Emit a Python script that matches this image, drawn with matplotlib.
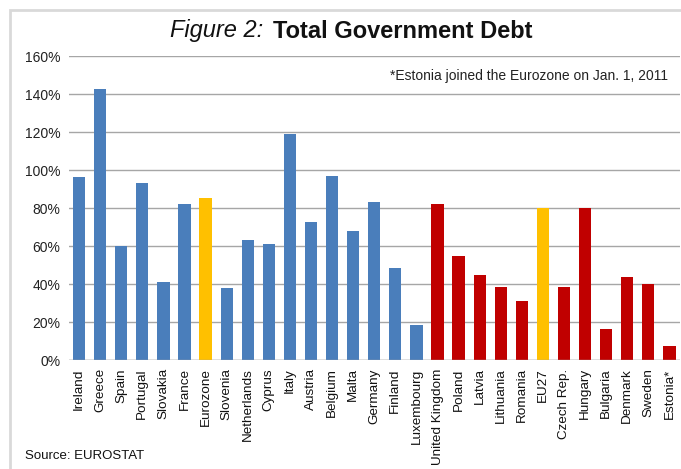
import matplotlib
matplotlib.use("Agg")
import matplotlib.pyplot as plt
from matplotlib.patches import Rectangle

plt.rcParams['font.family'] = ['Liberation Sans', 'DejaVu Sans']

countries = ["Ireland", "Greece", "Spain", "Portugal", "Slovakia", "France", "Eurozone",
             "Slovenia", "Netherlands", "Cyprus", "Italy", "Austria", "Belgium", "Malta",
             "Germany", "Finland", "Luxembourg", "United Kingdom", "Poland", "Latvia",
             "Lithuania", "Romania", "EU27", "Czech Rep.", "Hungary", "Bulgaria",
             "Denmark", "Sweden", "Estonia*"]
debt = [96.3, 142.6, 60.0, 93.2, 41.0, 82.0, 85.3,
        37.9, 63.2, 61.0, 119.0, 72.6, 96.8, 67.9,
        83.2, 48.4, 18.4, 82.0, 54.7, 44.7,
        38.4, 31.0, 80.0, 38.4, 80.0, 16.3,
        43.7, 40.0, 7.4]
groups = ["euro"] * 6 + ["agg"] + ["euro"] * 10 + ["non"] * 5 + ["agg"] + ["non"] * 6
yticks = [0, 20, 40, 60, 80, 100, 120, 140, 160]

color_map = {"euro": "#4A7EBB", "agg": "#FFC000", "non": "#C00000"}
colors = [color_map[g] for g in groups]

W, H = 681, 469
fig = plt.figure(figsize=(W / 100, H / 100), dpi=100)
fig.patch.set_facecolor("white")

# light frame around the chart
fig.patches.append(Rectangle((10 / W, -0.1), 1.2, 1 - 10 / H + 0.1, transform=fig.transFigure,
                             fill=False, edgecolor="#d9d9d9", linewidth=2))

ax = fig.add_axes([68.5 / W, 1 - 360 / H, (680 - 68.5) / W, (360 - 56) / H])
x = list(range(len(countries)))
ax.bar(x, debt, width=0.58, color=colors, zorder=3)
ax.set_xlim(-0.5, len(countries) - 0.5)
ax.set_ylim(0, 160)
ax.set_yticks(yticks)
ax.set_yticklabels([f"{v}%" for v in yticks], fontsize=10, color="#222222")
ax.set_xticks(x)
ax.set_xticklabels(countries, rotation=90, fontsize=9.7, color="#111111")
ax.tick_params(length=0, pad=6)
ax.grid(axis="y", color="#a6a6a6", linewidth=1, zorder=0)
for s in ax.spines.values():
    s.set_visible(False)
ax.axhline(0, color="#a6a6a6", linewidth=1, zorder=4)
ax.set_facecolor("white")

ax.text(0.98, 0.935, "*Estonia joined the Eurozone on Jan. 1, 2011", transform=ax.transAxes,
        ha="right", va="center", fontsize=10, color="#222222",
        bbox=dict(facecolor="white", edgecolor="none", pad=1), zorder=5)

fig.text(263 / W, 1 - 31 / H, "Figure 2:", ha="right", va="center", fontsize=17,
         style="italic", color="#111111")
fig.text(273 / W, 1 - 31 / H, "Total Government Debt", ha="left", va="center",
         fontsize=17, fontweight="bold", color="#111111")
fig.text(25 / W, 1 - 456 / H, "Source: EUROSTAT", ha="left", va="center",
         fontsize=9.5, color="#111111")

fig.savefig("out.png", dpi=100, facecolor="white")
